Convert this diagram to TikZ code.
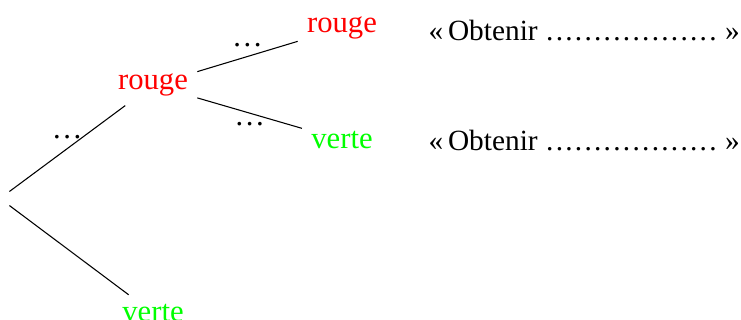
\documentclass[tikz,border=0pt]{standalone}
\usepackage{fontspec}
\setmainfont{Liberation Serif}
\definecolor{rougevif}{RGB}{255,0,0}
\definecolor{vertvif}{RGB}{0,255,0}
% one dot and a row of eighteen evenly spaced dots to be filled in
\newcommand{\unpoint}{\hbox to 3.6pt{\hss.\hss}}
\newcommand{\sixpoints}{\unpoint\unpoint\unpoint\unpoint\unpoint\unpoint}
\newcommand{\pointilles}{\hbox{\sixpoints\sixpoints\sixpoints}}
\newcommand{\taille}{\fontsize{11.5}{13}\selectfont}
\begin{document}
\begin{tikzpicture}[x=0.375pt,y=-0.375pt,
  feuille/.style={font=\taille},
  rou/.style={feuille,text=rougevif},
  ver/.style={feuille,text=vertvif},
  branche/.style={draw=black,line width=0.4pt},
  etiq/.style={font=\taille},
  phrase/.style={font=\fontsize{11}{13}\selectfont,inner sep=0pt,anchor=base west}]
\useasboundingbox (0,0) rectangle (741,320);
% tree
\node (racine) at (0,198.5) {};
\node[rou] (r1) at (153,85) {rouge};
\node[ver] (v1) at (153,313) {verte};
\node[rou] (rr) at (342,28) {rouge};
\node[ver] (rv) at (342,140) {verte};
\path[branche] (racine) -- node[etiq,midway,above] {\dots} (r1);
\path[branche] (racine) -- (v1);
\path[branche] (r1) -- node[etiq,midway,above] {\dots} (rr);
\path[branche] (r1) -- node[etiq,midway,below] {\dots} (rv);
% sentences to complete
\node[phrase] (p1) at (428,40.5) {«\,Obtenir \pointilles\ »};
\node[phrase] (p2) at (428,150.5) {«\,Obtenir \pointilles\ »};
\end{tikzpicture}
\end{document}
